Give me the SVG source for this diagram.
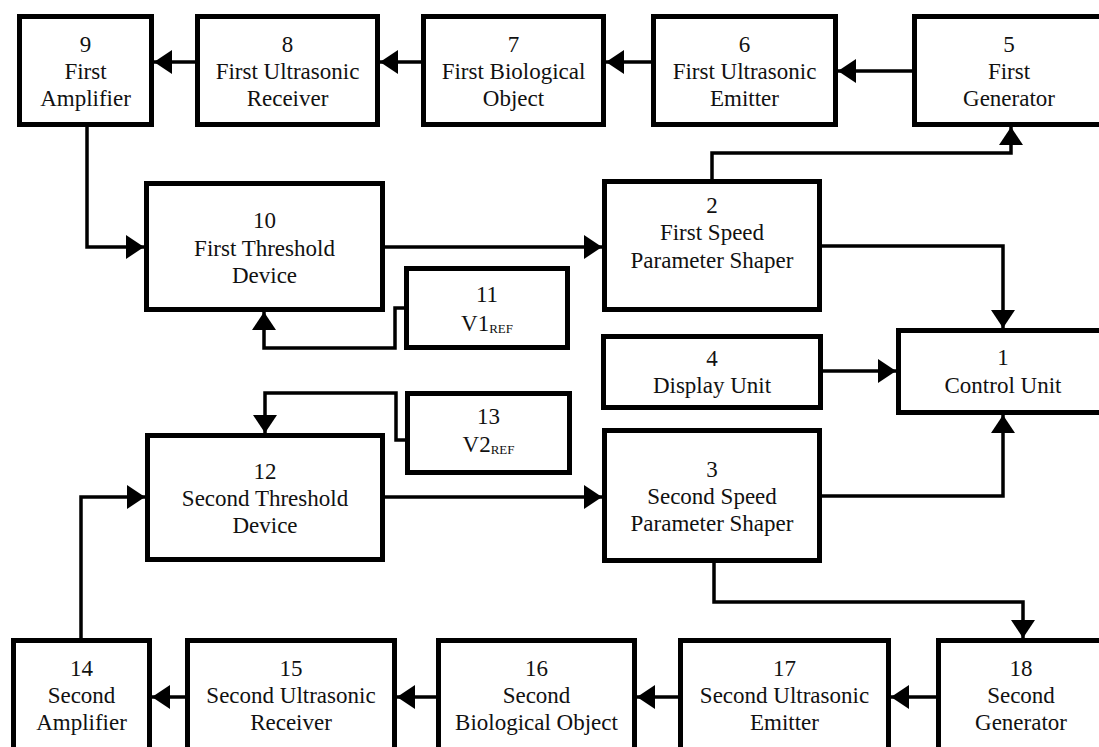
<svg xmlns="http://www.w3.org/2000/svg" width="1099" height="747" viewBox="0 0 1099 747">
<style>
.box{fill:#fff;stroke:#000;stroke-width:5}
.t{font-size:23px;fill:#111;text-anchor:middle}
.sub{font-size:13px}
.c{fill:none;stroke:#000;stroke-width:3.5}
</style>
<defs>
<marker id="ah" markerUnits="userSpaceOnUse" markerWidth="18" markerHeight="24" refX="18" refY="12" orient="auto" viewBox="0 0 18 24">
<path d="M0,0 L18,12 L0,24 Z" fill="#000"/>
</marker>
</defs>
<rect width="1099" height="747" fill="#fff"/>
<g id="connectors">
<path class="c" marker-end="url(#ah)" d="M195,62 H154"/>
<path class="c" marker-end="url(#ah)" d="M421,62 H380"/>
<path class="c" marker-end="url(#ah)" d="M651,62 H606"/>
<path class="c" marker-end="url(#ah)" d="M912,71 H838"/>
<path class="c" marker-end="url(#ah)" d="M87,127 V247 H144"/>
<path class="c" marker-end="url(#ah)" d="M385,247 H602"/>
<path class="c" marker-end="url(#ah)" d="M712,179 V153 H1011 V127"/>
<path class="c" marker-end="url(#ah)" d="M822,246 H1003 V328"/>
<path class="c" marker-end="url(#ah)" d="M823,371 H896"/>
<path class="c" marker-end="url(#ah)" d="M404,308 H395 V348 H264 V312"/>
<path class="c" marker-end="url(#ah)" d="M405,440 H396 V393 H265 V433"/>
<path class="c" marker-end="url(#ah)" d="M81,638 V497 H145"/>
<path class="c" marker-end="url(#ah)" d="M385,497 H602"/>
<path class="c" marker-end="url(#ah)" d="M822,496 H1003 V415"/>
<path class="c" marker-end="url(#ah)" d="M714,563 V602 H1023 V638"/>
<path class="c" marker-end="url(#ah)" d="M936,697 H891"/>
<path class="c" marker-end="url(#ah)" d="M678,697 H637"/>
<path class="c" marker-end="url(#ah)" d="M436,697 H397"/>
<path class="c" marker-end="url(#ah)" d="M185,697 H152"/>
</g>
<g font-family="'Liberation Serif', 'DejaVu Serif', 'Times New Roman', serif">
<g id="n9"><rect class="box" x="19.5" y="16.5" width="132" height="108"/>
<text class="t" x="85.5" y="52">9</text><text class="t" x="85.5" y="79">First</text><text class="t" x="85.5" y="106">Amplifier</text></g>
<g id="n8"><rect class="box" x="197.5" y="16.5" width="180" height="108"/>
<text class="t" x="287.5" y="52">8</text><text class="t" x="287.5" y="79">First Ultrasonic</text><text class="t" x="287.5" y="106">Receiver</text></g>
<g id="n7"><rect class="box" x="423.5" y="16.5" width="180" height="108"/>
<text class="t" x="513.5" y="52">7</text><text class="t" x="513.5" y="79">First Biological</text><text class="t" x="513.5" y="106">Object</text></g>
<g id="n6"><rect class="box" x="653.5" y="16.5" width="182" height="108"/>
<text class="t" x="744.5" y="52">6</text><text class="t" x="744.5" y="79">First Ultrasonic</text><text class="t" x="744.5" y="106">Emitter</text></g>
<g id="n5"><rect class="box" x="914.5" y="16.5" width="189" height="108"/>
<text class="t" x="1009" y="52">5</text><text class="t" x="1009" y="79">First</text><text class="t" x="1009" y="106">Generator</text></g>
<g id="n10"><rect class="box" x="146.5" y="183.5" width="236" height="126"/>
<text class="t" x="264.5" y="228">10</text><text class="t" x="264.5" y="256">First Threshold</text><text class="t" x="264.5" y="283">Device</text></g>
<g id="n2"><rect class="box" x="604.5" y="181.5" width="215" height="128"/>
<text class="t" x="712" y="213">2</text><text class="t" x="712" y="240">First Speed</text><text class="t" x="712" y="268">Parameter Shaper</text></g>
<g id="n11"><rect class="box" x="406.5" y="268.5" width="161" height="79"/>
<text class="t" x="487" y="302">11</text><text class="t" x="487" y="331">V1<tspan class="sub" dy="2">REF</tspan></text></g>
<g id="n4"><rect class="box" x="603.5" y="336.5" width="217" height="71"/>
<text class="t" x="712" y="366">4</text><text class="t" x="712" y="393">Display Unit</text></g>
<g id="n1"><rect class="box" x="898.5" y="330.5" width="209" height="82"/>
<text class="t" x="1003" y="365">1</text><text class="t" x="1003" y="393">Control Unit</text></g>
<g id="n13"><rect class="box" x="407.5" y="393.5" width="162" height="79"/>
<text class="t" x="488.5" y="424">13</text><text class="t" x="488.5" y="452">V2<tspan class="sub" dy="2">REF</tspan></text></g>
<g id="n12"><rect class="box" x="147.5" y="435.5" width="235" height="124"/>
<text class="t" x="265" y="479">12</text><text class="t" x="265" y="506">Second Threshold</text><text class="t" x="265" y="533">Device</text></g>
<g id="n3"><rect class="box" x="604.5" y="430.5" width="215" height="130"/>
<text class="t" x="712" y="477">3</text><text class="t" x="712" y="504">Second Speed</text><text class="t" x="712" y="531">Parameter Shaper</text></g>
<g id="n14"><rect class="box" x="13.5" y="640.5" width="136" height="120"/>
<text class="t" x="81.5" y="676">14</text><text class="t" x="81.5" y="703">Second</text><text class="t" x="81.5" y="730">Amplifier</text></g>
<g id="n15"><rect class="box" x="187.5" y="640.5" width="207" height="120"/>
<text class="t" x="291" y="676">15</text><text class="t" x="291" y="703">Second Ultrasonic</text><text class="t" x="291" y="730">Receiver</text></g>
<g id="n16"><rect class="box" x="438.5" y="640.5" width="196" height="120"/>
<text class="t" x="536.5" y="676">16</text><text class="t" x="536.5" y="703">Second</text><text class="t" x="536.5" y="730">Biological Object</text></g>
<g id="n17"><rect class="box" x="680.5" y="640.5" width="208" height="120"/>
<text class="t" x="784.5" y="676">17</text><text class="t" x="784.5" y="703">Second Ultrasonic</text><text class="t" x="784.5" y="730">Emitter</text></g>
<g id="n18"><rect class="box" x="938.5" y="640.5" width="165" height="120"/>
<text class="t" x="1021" y="676">18</text><text class="t" x="1021" y="703">Second</text><text class="t" x="1021" y="730">Generator</text></g>
</g>
</svg>
